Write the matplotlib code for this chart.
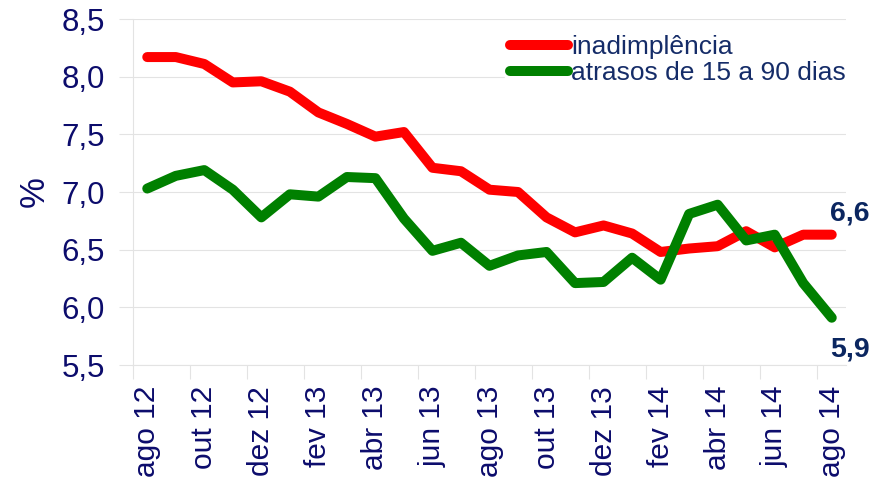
import matplotlib.pyplot as plt

months = ['ago 12', 'set 12', 'out 12', 'nov 12', 'dez 12', 'jan 13', 'fev 13',
          'mar 13', 'abr 13', 'mai 13', 'jun 13', 'jul 13', 'ago 13', 'set 13',
          'out 13', 'nov 13', 'dez 13', 'jan 14', 'fev 14', 'mar 14', 'abr 14',
          'mai 14', 'jun 14', 'jul 14', 'ago 14']

inadimplencia = [8.17, 8.17, 8.11, 7.95, 7.96, 7.87, 7.69, 7.59, 7.48, 7.52,
                 7.21, 7.18, 7.02, 7.00, 6.78, 6.65, 6.71, 6.64, 6.48, 6.51,
                 6.53, 6.66, 6.52, 6.63, 6.63]
atrasos = [7.03, 7.14, 7.19, 7.02, 6.78, 6.98, 6.96, 7.13, 7.12, 6.77,
           6.49, 6.56, 6.36, 6.45, 6.48, 6.21, 6.22, 6.43, 6.24, 6.81,
           6.89, 6.58, 6.63, 6.21, 5.91]

yticks = [5.5, 6.0, 6.5, 7.0, 7.5, 8.0, 8.5]

navy = '#0c0c6c'
legend_col = '#152c68'
label_col = '#0b2660'
grid_col = '#e3e3e3'

plt.rcParams['font.family'] = ['Liberation Sans', 'DejaVu Sans']

fig = plt.figure(figsize=(8.93, 4.98), dpi=100)
ax = fig.add_axes([133 / 893, 1 - 365 / 498, 713 / 893, 346 / 498])

x = list(range(len(months)))
ax.plot(x, inadimplencia, color='#ff0000', lw=7.2, solid_capstyle='round',
        solid_joinstyle='round', label='inadimplência', zorder=3)
ax.plot(x, atrasos, color='#008000', lw=7.2, solid_capstyle='round',
        solid_joinstyle='round', label='atrasos de 15 a 90 dias', zorder=3)

ax.set_xlim(-0.5, len(months) - 0.5)
ax.set_ylim(5.5, 8.5)
ax.set_yticks(yticks)
ax.set_yticklabels([f'{v:.1f}'.replace('.', ',') for v in yticks],
                   fontsize=22.5, color=navy)
ax.tick_params(axis='y', length=10, width=0.8, color=grid_col, pad=10)

ax.set_xticks([i - 0.5 for i in x[::2]])
ax.set_xticklabels([])
ax.set_xticks(x[::2], minor=True)
ax.set_xticklabels(months[::2], minor=True, rotation=90, fontsize=21.5, color=navy)
ax.tick_params(axis='x', which='major', length=10, width=0.8, color=grid_col)
ax.tick_params(axis='x', which='minor', length=0, pad=15)

ax.grid(axis='y', color=grid_col, lw=0.8, zorder=0)
for s in ['top', 'right']:
    ax.spines[s].set_visible(False)
for s in ['left', 'bottom']:
    ax.spines[s].set_color(grid_col)
    ax.spines[s].set_linewidth(0.8)

ax.set_ylabel('%', fontsize=25, color=navy, labelpad=8)

ax.annotate('6,6', (x[-1], inadimplencia[-1]), xytext=(-1, 15),
            textcoords='offset points', ha='left', va='center', fontsize=20.5,
            fontweight='bold', color=label_col)
ax.annotate('5,9', (x[-1], atrasos[-1]), xytext=(-1, -23),
            textcoords='offset points', ha='left', va='center', fontsize=20.5,
            fontweight='bold', color=label_col)

leg = ax.legend(loc='upper left', bbox_to_anchor=(505 / 893, 1 - 30 / 498),
                bbox_transform=fig.transFigure, fontsize=19, frameon=True,
                framealpha=1, edgecolor='white', fancybox=False,
                handlelength=2.2, handletextpad=0.1, labelspacing=0.08,
                borderpad=0.2, borderaxespad=0)
for line in leg.get_lines():
    line.set_linewidth(7.2)
    line.set_solid_capstyle('round')
for t in leg.get_texts():
    t.set_color(legend_col)

fig.savefig('out.png', dpi=100)
